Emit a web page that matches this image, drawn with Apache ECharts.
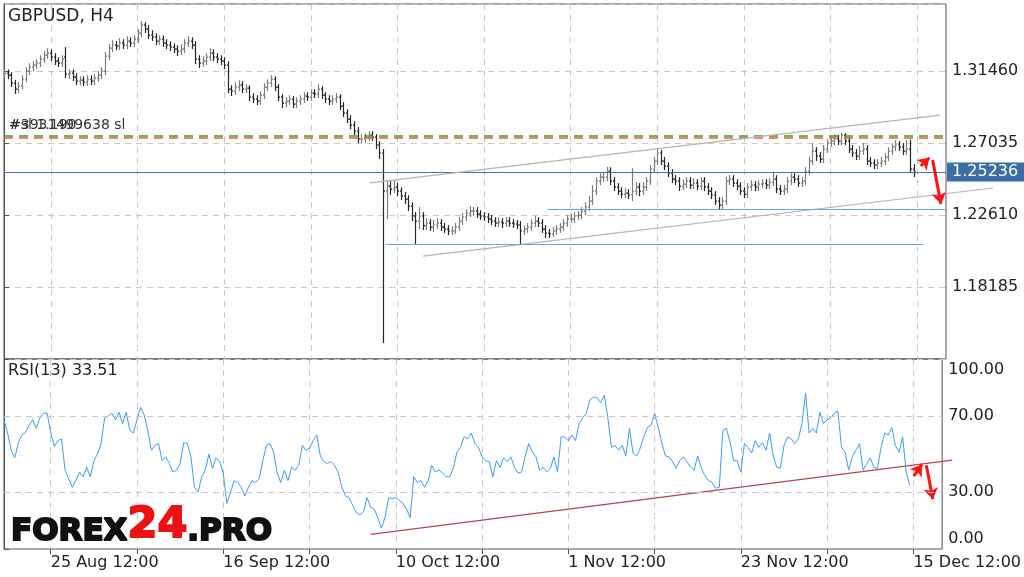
<!DOCTYPE html>
<html><head><meta charset="utf-8">
<script src="https://cdn.jsdelivr.net/npm/echarts@6/dist/echarts.min.js"></script>
<style>html,body{margin:0;padding:0;background:#fff}#c{width:1024px;height:577px}</style>
</head><body><div id="c"></div>
<script>
// ---- data ----
const xTickIndex = [13, 61, 109, 157, 205, 253];
const xTickLabels = ['25 Aug 12:00', '16 Sep 12:00', '10 Oct 12:00', '1 Nov 12:00', '23 Nov 12:00', '15 Dec 12:00'];
const priceTicks = [1.18185, 1.22610, 1.27035, 1.31460];
const rsiTicks = [0, 30, 70, 100];
const categoryCount = 262;

// [open, close, low, high]
const bars = [
[1.3125,1.3131,1.3101,1.3155],[1.3131,1.3119,1.3095,1.3155],[1.3119,1.3070,1.3046,1.3137],[1.3070,1.3033,1.3003,1.3090],[1.3033,1.3052,1.3009,1.3076],[1.3052,1.3094,1.3034,1.3118],[1.3094,1.3144,1.3076,1.3168],[1.3144,1.3168,1.3120,1.3192],[1.3168,1.3181,1.3144,1.3205],[1.3181,1.3193,1.3157,1.3217],
[1.3193,1.3217,1.3169,1.3241],[1.3217,1.3242,1.3193,1.3266],[1.3242,1.3254,1.3218,1.3284],[1.3254,1.3230,1.3206,1.3278],[1.3230,1.3205,1.3181,1.3254],[1.3205,1.3193,1.3169,1.3229],[1.3193,1.3217,1.3169,1.3241],[1.3230,1.3125,1.3101,1.3291],[1.3125,1.3131,1.3095,1.3155],[1.3131,1.3107,1.3083,1.3155],
[1.3107,1.3082,1.3058,1.3131],[1.3082,1.3088,1.3058,1.3112],[1.3088,1.3076,1.3052,1.3112],[1.3076,1.3094,1.3052,1.3118],[1.3094,1.3082,1.3058,1.3118],[1.3082,1.3101,1.3058,1.3125],[1.3101,1.3119,1.3077,1.3143],[1.3119,1.3144,1.3095,1.3168],[1.3144,1.3236,1.3120,1.3260],[1.3236,1.3285,1.3212,1.3309],
[1.3285,1.3303,1.3261,1.3334],[1.3303,1.3297,1.3273,1.3328],[1.3297,1.3316,1.3273,1.3346],[1.3316,1.3303,1.3279,1.3340],[1.3303,1.3328,1.3279,1.3358],[1.3328,1.3316,1.3292,1.3352],[1.3316,1.3340,1.3292,1.3364],[1.3340,1.3377,1.3316,1.3401],[1.3377,1.3426,1.3353,1.3451],[1.3426,1.3402,1.3378,1.3445],
[1.3402,1.3365,1.3341,1.3426],[1.3365,1.3353,1.3329,1.3395],[1.3353,1.3328,1.3304,1.3377],[1.3328,1.3340,1.3304,1.3364],[1.3340,1.3316,1.3292,1.3364],[1.3316,1.3303,1.3279,1.3340],[1.3303,1.3291,1.3267,1.3327],[1.3291,1.3279,1.3255,1.3315],[1.3279,1.3267,1.3236,1.3303],[1.3267,1.3279,1.3243,1.3309],
[1.3279,1.3316,1.3255,1.3340],[1.3316,1.3328,1.3292,1.3358],[1.3328,1.3303,1.3279,1.3352],[1.3303,1.3217,1.3187,1.3327],[1.3217,1.3193,1.3163,1.3241],[1.3193,1.3205,1.3169,1.3235],[1.3205,1.3230,1.3181,1.3254],[1.3230,1.3254,1.3206,1.3284],[1.3254,1.3230,1.3206,1.3278],[1.3230,1.3217,1.3193,1.3254],
[1.3217,1.3205,1.3181,1.3241],[1.3205,1.3181,1.3157,1.3229],[1.3181,1.3033,1.3009,1.3205],[1.3033,1.3021,1.2991,1.3057],[1.3021,1.3045,1.2997,1.3076],[1.3045,1.3058,1.3021,1.3088],[1.3058,1.3033,1.3009,1.3082],[1.3033,1.3039,1.3009,1.3064],[1.3039,1.2984,1.2960,1.3057],[1.2984,1.2972,1.2948,1.3008],
[1.2972,1.2960,1.2935,1.2996],[1.2960,1.2996,1.2936,1.3020],[1.2996,1.3045,1.2972,1.3070],[1.3045,1.3070,1.3021,1.3094],[1.3070,1.3094,1.3046,1.3119],[1.3094,1.3045,1.3021,1.3112],[1.3045,1.2984,1.2960,1.3064],[1.2984,1.2947,1.2917,1.3002],[1.2947,1.2960,1.2923,1.2984],[1.2960,1.2972,1.2936,1.2996],
[1.2972,1.2941,1.2917,1.2990],[1.2941,1.2960,1.2917,1.2984],[1.2960,1.2972,1.2936,1.2996],[1.2972,1.2990,1.2948,1.3014],[1.2990,1.2984,1.2960,1.3014],[1.2984,1.3009,1.2960,1.3033],[1.3009,1.3002,1.2978,1.3033],[1.3002,1.3033,1.2978,1.3064],[1.3033,1.2996,1.2972,1.3051],[1.2996,1.2972,1.2948,1.3014],
[1.2972,1.2960,1.2935,1.2996],[1.2960,1.2972,1.2936,1.2996],[1.2972,1.2984,1.2948,1.3008],[1.2984,1.2929,1.2905,1.3002],[1.2929,1.2886,1.2862,1.2953],[1.2886,1.2849,1.2825,1.2910],[1.2849,1.2812,1.2788,1.2873],[1.2812,1.2775,1.2751,1.2836],[1.2775,1.2727,1.2702,1.2800],[1.2727,1.2727,1.2702,1.2757],
[1.2727,1.2739,1.2702,1.2763],[1.2739,1.2751,1.2715,1.2775],[1.2751,1.2739,1.2715,1.2775],[1.2739,1.2690,1.2666,1.2757],[1.2690,1.2641,1.2604,1.2714],[1.2641,1.2407,1.1474,1.2665],[1.2407,1.2438,1.2235,1.2474],[1.2438,1.2419,1.2383,1.2468],[1.2419,1.2432,1.2395,1.2474],[1.2432,1.2407,1.2377,1.2456],
[1.2407,1.2376,1.2352,1.2431],[1.2376,1.2358,1.2328,1.2401],[1.2358,1.2315,1.2285,1.2382],[1.2315,1.2254,1.2223,1.2339],[1.2254,1.2223,1.2082,1.2278],[1.2223,1.2254,1.2174,1.2309],[1.2254,1.2193,1.2168,1.2278],[1.2193,1.2211,1.2168,1.2241],[1.2211,1.2186,1.2162,1.2235],[1.2186,1.2199,1.2156,1.2229],
[1.2199,1.2211,1.2174,1.2241],[1.2211,1.2186,1.2162,1.2235],[1.2186,1.2174,1.2150,1.2211],[1.2174,1.2162,1.2137,1.2198],[1.2162,1.2162,1.2137,1.2192],[1.2162,1.2186,1.2143,1.2211],[1.2186,1.2223,1.2162,1.2247],[1.2223,1.2248,1.2199,1.2272],[1.2248,1.2272,1.2223,1.2296],[1.2272,1.2284,1.2248,1.2315],
[1.2284,1.2284,1.2254,1.2309],[1.2284,1.2266,1.2242,1.2309],[1.2266,1.2254,1.2230,1.2290],[1.2254,1.2248,1.2223,1.2278],[1.2248,1.2235,1.2211,1.2272],[1.2235,1.2223,1.2199,1.2260],[1.2223,1.2211,1.2187,1.2247],[1.2211,1.2217,1.2187,1.2247],[1.2217,1.2211,1.2181,1.2241],[1.2211,1.2223,1.2187,1.2247],
[1.2223,1.2211,1.2187,1.2247],[1.2211,1.2205,1.2181,1.2235],[1.2205,1.2199,1.2174,1.2229],[1.2199,1.2162,1.2082,1.2223],[1.2162,1.2174,1.2137,1.2198],[1.2174,1.2186,1.2150,1.2211],[1.2186,1.2211,1.2162,1.2235],[1.2211,1.2223,1.2187,1.2254],[1.2223,1.2211,1.2187,1.2247],[1.2211,1.2174,1.2150,1.2235],
[1.2174,1.2149,1.2119,1.2198],[1.2149,1.2143,1.2119,1.2174],[1.2143,1.2162,1.2125,1.2186],[1.2162,1.2174,1.2137,1.2198],[1.2174,1.2186,1.2150,1.2211],[1.2186,1.2211,1.2162,1.2235],[1.2211,1.2235,1.2187,1.2260],[1.2235,1.2235,1.2211,1.2266],[1.2235,1.2254,1.2211,1.2278],[1.2254,1.2260,1.2230,1.2284],
[1.2260,1.2284,1.2236,1.2309],[1.2284,1.2309,1.2260,1.2339],[1.2309,1.2346,1.2285,1.2376],[1.2346,1.2407,1.2322,1.2444],[1.2407,1.2468,1.2383,1.2493],[1.2468,1.2493,1.2444,1.2517],[1.2493,1.2493,1.2463,1.2523],[1.2493,1.2530,1.2469,1.2555],[1.2530,1.2468,1.2444,1.2554],[1.2468,1.2432,1.2407,1.2493],
[1.2432,1.2407,1.2383,1.2456],[1.2407,1.2389,1.2364,1.2431],[1.2389,1.2395,1.2364,1.2425],[1.2395,1.2383,1.2358,1.2419],[1.2383,1.2407,1.2346,1.2548],[1.2407,1.2432,1.2383,1.2462],[1.2432,1.2407,1.2377,1.2456],[1.2407,1.2432,1.2383,1.2462],[1.2432,1.2468,1.2407,1.2493],[1.2468,1.2542,1.2444,1.2567],
[1.2542,1.2591,1.2518,1.2616],[1.2591,1.2641,1.2567,1.2665],[1.2641,1.2591,1.2567,1.2660],[1.2591,1.2561,1.2536,1.2616],[1.2561,1.2518,1.2493,1.2585],[1.2518,1.2481,1.2456,1.2542],[1.2481,1.2468,1.2444,1.2505],[1.2468,1.2438,1.2407,1.2493],[1.2438,1.2450,1.2413,1.2480],[1.2450,1.2468,1.2426,1.2493],
[1.2468,1.2444,1.2420,1.2493],[1.2444,1.2456,1.2420,1.2487],[1.2456,1.2438,1.2413,1.2480],[1.2438,1.2468,1.2413,1.2493],[1.2468,1.2432,1.2407,1.2493],[1.2432,1.2407,1.2383,1.2456],[1.2407,1.2383,1.2358,1.2431],[1.2383,1.2346,1.2322,1.2407],[1.2346,1.2321,1.2297,1.2370],[1.2321,1.2346,1.2297,1.2370],
[1.2346,1.2468,1.2322,1.2493],[1.2468,1.2481,1.2444,1.2505],[1.2481,1.2456,1.2432,1.2505],[1.2456,1.2438,1.2413,1.2480],[1.2438,1.2407,1.2383,1.2462],[1.2407,1.2389,1.2364,1.2431],[1.2389,1.2432,1.2364,1.2456],[1.2432,1.2444,1.2407,1.2474],[1.2444,1.2432,1.2407,1.2468],[1.2432,1.2450,1.2407,1.2474],
[1.2450,1.2456,1.2426,1.2480],[1.2456,1.2444,1.2420,1.2480],[1.2444,1.2462,1.2420,1.2487],[1.2462,1.2481,1.2438,1.2523],[1.2481,1.2419,1.2395,1.2505],[1.2419,1.2407,1.2383,1.2444],[1.2407,1.2419,1.2383,1.2444],[1.2419,1.2468,1.2395,1.2493],[1.2468,1.2493,1.2444,1.2517],[1.2493,1.2481,1.2456,1.2517],
[1.2481,1.2456,1.2432,1.2505],[1.2456,1.2468,1.2432,1.2493],[1.2468,1.2530,1.2444,1.2554],[1.2530,1.2591,1.2506,1.2616],[1.2591,1.2653,1.2567,1.2702],[1.2653,1.2622,1.2592,1.2677],[1.2622,1.2604,1.2579,1.2647],[1.2604,1.2665,1.2579,1.2690],[1.2665,1.2702,1.2641,1.2726],[1.2702,1.2714,1.2678,1.2745],
[1.2714,1.2727,1.2690,1.2757],[1.2727,1.2714,1.2690,1.2751],[1.2714,1.2751,1.2690,1.2765],[1.2751,1.2714,1.2690,1.2763],[1.2714,1.2665,1.2641,1.2739],[1.2665,1.2641,1.2616,1.2690],[1.2641,1.2622,1.2598,1.2665],[1.2622,1.2653,1.2598,1.2684],[1.2653,1.2665,1.2629,1.2702],[1.2665,1.2591,1.2567,1.2690],
[1.2591,1.2579,1.2555,1.2616],[1.2579,1.2567,1.2543,1.2603],[1.2567,1.2579,1.2543,1.2603],[1.2579,1.2591,1.2555,1.2616],[1.2591,1.2616,1.2567,1.2640],[1.2616,1.2653,1.2592,1.2677],[1.2653,1.2678,1.2629,1.2702],[1.2678,1.2690,1.2653,1.2720],[1.2690,1.2678,1.2653,1.2714],[1.2678,1.2653,1.2629,1.2702],
[1.2653,1.2665,1.2629,1.2720],[1.2665,1.2542,1.2518,1.2724],[1.2542,1.2524,1.2493,1.2573]
];

const rsi = [
67.8,61,52,48,56,60,61.5,65,68,63.5,
69,71.5,71.5,61,54,57,58,41.5,37,32.5,
36,40.5,38,43,38,46.5,50,55.5,69,70,
71.5,68,72,66,72,62.5,61,68,74.5,70.5,
62.5,52,54.5,55.5,46.5,48.5,45,40.5,41.5,45,
56,55.5,48.5,32.5,30,38,41.5,50,42.5,48,
46,40,24,29.5,36,35,32.5,28,32.5,36,
35,37,46.5,54.5,55.5,51,40,35,41.5,36,
43,41.5,44,54.5,52,53,57,60,49,46,
45,46,44,40,32.5,28,27,23,19,18,
19.5,27,22,21,16.5,11,16.5,27,26.5,27,
25.5,24,21,16.5,38,35,36,32.5,36,44,
40.5,41.5,40,38,38,42.5,51,53.5,59,58,
61,55.5,53.5,48.5,46.5,46,38,46.5,43,48,
46,48.5,43,40,40.5,49,55.5,51,48.5,41.5,
43,40.5,42.5,48.5,40.5,59,59,57,60,57,
66,69,71.5,78.5,80,79.5,77,81,69,53.5,
54.5,52,54.5,49,63.5,50.5,49,53,59,64,
65,71.5,64,56,49,48.5,46,42.5,46.5,48.5,
46,43,41.5,49,42.5,38.5,36,35,32,32.5,
62.5,63.5,56,46.5,46.5,40.5,55.5,53.5,50.5,57,
53.5,56,52,61,49,43,42.5,54.5,59,58,
55.5,58,66,82,61,63.5,61,72,66,68,
69,71.5,72.5,53.5,51,41.5,48.5,52,55.5,41.5,
45,48,43,42.5,53.5,61,60,64,54.5,51,
59,40.5,33.5
];

const lastPrice = 1.25236;
const stopGreen = 1.2749;
const stopOrange = 1.2737;
const channelUpper = [[101.4, 1.2457], [259.4, 1.2874]];
const channelLower = [[116.1, 1.2008], [274.0, 1.2426]];
const levelUpper = [[150.7, 1.2295], [261, 1.2295]];
const levelLower = [[105.6, 1.2078], [254.6, 1.2078]];
const priceArrows = [[[254.0, 1.2561], [256.4, 1.2612]], [[257.3, 1.2598], [259.6, 1.2328]]];
const rsiTrend = [[102.0, 7.7], [263.8, 46.8]];
const rsiArrows = [[[253.1, 38.3], [255.4, 44.5]], [[256.6, 44.1], [258.4, 26.2]]];

// ---- chart ----
const FONT = 'DejaVu Sans';
const lastIdx = categoryCount - 1;
const categories = Array.from({length: categoryCount}, (_, i) => String(i));
const priceStep = priceTicks[1] - priceTicks[0];
const isGrid = i => i >= xTickIndex[0] && (i - xTickIndex[0]) % 24 === 0;
const isLabel = i => xTickIndex.indexOf(i) >= 0;
const gridLine = {type: [6, 5], color: '#c8c8c8', width: 1};
const ohlcTable = bars.map((b, i) => [i, b[0], b[1], b[2], b[3]]);
const hLine = v => ({coords: [[0, v], [lastIdx, v]]});

function renderOHLC(params, api) {
  const i = api.value(0);
  const o = api.coord([i, api.value(1)]);
  const c = api.coord([i, api.value(2)]);
  const l = api.coord([i, api.value(3)]);
  const h = api.coord([i, api.value(4)]);
  const x = Math.round(o[0]) + 0.5;
  const col = api.value(2) >= api.value(1) ? '#7d7d7d' : '#262626';
  const st = {stroke: col, lineWidth: 1.2};
  return {type: 'group', children: [
    {type: 'line', shape: {x1: x, y1: h[1], x2: x, y2: l[1]}, style: st},
    {type: 'line', shape: {x1: x - 1.5, y1: o[1], x2: x, y2: o[1]}, style: st},
    {type: 'line', shape: {x1: x, y1: c[1], x2: x + 1.5, y2: c[1]}, style: st}
  ]};
}

const chart = echarts.init(document.getElementById('c'), null, {renderer: 'canvas'});
chart.setOption({
  animation: false,
  backgroundColor: '#ffffff',
  grid: [
    {left: 4, right: 78, top: 4, height: 355, show: true, borderColor: '#555', borderWidth: 1, backgroundColor: 'transparent'},
    {left: 4, right: 78, top: 359, height: 190, show: true, borderColor: '#555', borderWidth: 1, backgroundColor: 'transparent'}
  ],
  xAxis: [
    {type: 'category', gridIndex: 0, data: categories, boundaryGap: false,
     axisLine: {show: false}, axisTick: {show: false}, axisLabel: {show: false},
     splitLine: {show: true, interval: isGrid, lineStyle: gridLine}},
    {type: 'category', gridIndex: 1, data: categories, boundaryGap: false,
     axisLine: {show: false},
     axisTick: {show: true, interval: isGrid, length: 5, lineStyle: {color: '#555'}},
     axisLabel: {show: true, interval: isLabel, align: 'left', margin: 6, fontFamily: FONT, fontSize: 16, color: '#222',
                 formatter: (v) => { const k = xTickIndex.indexOf(+v); return k >= 0 ? xTickLabels[k] : ''; }},
     splitLine: {show: true, interval: isGrid, lineStyle: gridLine}},
    {type: 'value', gridIndex: 0, min: 0, max: lastIdx, show: false},
    {type: 'value', gridIndex: 1, min: 0, max: lastIdx, show: false}
  ],
  yAxis: [
    {type: 'value', gridIndex: 0, position: 'right', scale: true,
     min: +(priceTicks[0] - priceStep).toFixed(5), max: 1.3556, interval: priceStep,
     axisLine: {show: true, lineStyle: {color: '#555'}},
     axisTick: {show: true, length: 5, lineStyle: {color: '#555'}},
     axisLabel: {show: true, showMinLabel: false, showMaxLabel: false, margin: 6, fontFamily: FONT, fontSize: 16, color: '#222',
                 formatter: v => priceTicks.some(t => Math.abs(t - v) < 1e-6) ? v.toFixed(5) : ''},
     splitLine: {show: true, lineStyle: gridLine}},
    {type: 'value', gridIndex: 1, position: 'right', min: 0, max: 100, interval: 10,
     axisLine: {show: true, lineStyle: {color: '#555'}},
     axisTick: {show: true, length: 5, customValues: rsiTicks, lineStyle: {color: '#555'}},
     axisLabel: {show: true, margin: 6, fontFamily: FONT, fontSize: 16, color: '#222', customValues: rsiTicks,
                 formatter: v => {
                   if (!rsiTicks.some(t => Math.abs(t - v) < 1e-6)) return '';
                   const s = v.toFixed(2);
                   if (v >= 100) return '{top|' + s + '}';
                   if (v <= 0) return '{bot|' + s + '}';
                   return s;
                 },
                 rich: {top: {padding: [22, 0, 0, 0], fontFamily: FONT, fontSize: 16, color: '#222'},
                        bot: {padding: [0, 0, 20, 0], fontFamily: FONT, fontSize: 16, color: '#222'}}},
     splitLine: {show: false}}
  ],
  series: [
    {type: 'custom', xAxisIndex: 0, yAxisIndex: 0, data: ohlcTable, renderItem: renderOHLC,
     encode: {x: 0, y: [1, 2, 3, 4]}, clip: true, silent: true, z: 2},
    {type: 'lines', coordinateSystem: 'cartesian2d', xAxisIndex: 2, yAxisIndex: 0, clip: false, silent: true, z: 3,
     lineStyle: {color: '#33a02c', type: [9, 6], width: 1.5, opacity: 1}, data: [hLine(stopGreen)]},
    {type: 'lines', coordinateSystem: 'cartesian2d', xAxisIndex: 2, yAxisIndex: 0, clip: false, silent: true, z: 3,
     lineStyle: {color: '#ff5522', type: [9, 6], width: 1.5, opacity: 1}, data: [hLine(stopOrange)]},
    {type: 'lines', coordinateSystem: 'cartesian2d', xAxisIndex: 2, yAxisIndex: 0, clip: false, silent: true, z: 3,
     lineStyle: {color: '#4a72a6', width: 1, opacity: 1},
     label: {show: true, position: 'end', distance: 1, formatter: lastPrice.toFixed(5),
             backgroundColor: '#3b6ea5', color: '#ffffff', fontFamily: FONT, fontSize: 16, padding: [2, 6, 1, 5]},
     data: [hLine(lastPrice)]},
    {type: 'lines', coordinateSystem: 'cartesian2d', xAxisIndex: 2, yAxisIndex: 0, clip: false, silent: true, z: 3,
     lineStyle: {color: '#b4b4b4', width: 1.2, opacity: 1},
     data: [{coords: channelUpper}, {coords: channelLower}]},
    {type: 'lines', coordinateSystem: 'cartesian2d', xAxisIndex: 2, yAxisIndex: 0, clip: false, silent: true, z: 3,
     lineStyle: {color: '#6fa3e0', width: 1.2, opacity: 1},
     data: [{coords: levelUpper}, {coords: levelLower}]},
    {type: 'lines', coordinateSystem: 'cartesian2d', xAxisIndex: 2, yAxisIndex: 0, clip: false, silent: true, z: 4,
     symbol: ['none', 'arrow'], symbolSize: 11,
     lineStyle: {color: '#ff1010', width: 3, opacity: 1},
     data: priceArrows.map(c => ({coords: c}))},
    {type: 'line', xAxisIndex: 1, yAxisIndex: 1, data: rsi, showSymbol: false, symbol: 'none',
     lineStyle: {color: '#3d9bff', width: 1}, z: 3,
     markLine: {silent: true, symbol: ['none', 'none'], label: {show: false},
       lineStyle: gridLine,
       data: rsiTicks.filter(v => v > 0 && v < 100).map(v => ({yAxis: v}))}},
    {type: 'lines', coordinateSystem: 'cartesian2d', xAxisIndex: 3, yAxisIndex: 1, clip: false, silent: true, z: 3,
     lineStyle: {color: '#b5484e', width: 1.4, opacity: 1},
     data: [{coords: rsiTrend}]},
    {type: 'lines', coordinateSystem: 'cartesian2d', xAxisIndex: 3, yAxisIndex: 1, clip: false, silent: true, z: 4,
     symbol: ['none', 'arrow'], symbolSize: 11,
     lineStyle: {color: '#ff1010', width: 3, opacity: 1},
     data: rsiArrows.map(c => ({coords: c}))}
  ],
  graphic: [
    {type: 'text', left: 8, top: 8, z: 100, style: {text: 'GBPUSD, H4', fontFamily: FONT, fontSize: 17, fill: '#222'}},
    {type: 'text', left: 9, top: 118, z: 100, style: {text: '#3931499638 sl', fontFamily: FONT, fontSize: 14, fill: '#333'}},
    {type: 'text', left: 9, top: 118, z: 100, style: {text: '#sl 1.190', fontFamily: FONT, fontSize: 14, fill: '#333'}},
    {type: 'text', left: 8, top: 363, z: 100, style: {text: 'RSI(13) 33.51', fontFamily: FONT, fontSize: 16, fill: '#222'}},
    {type: 'text', left: 10, top: 503, z: 100, style: {
      text: '{a|FOREX}{b|24}{a|.PRO}',
      rich: {
        a: {fontFamily: FONT, fontWeight: 'bold', fontSize: 31, fill: '#111', stroke: '#111', lineWidth: 2, verticalAlign: 'bottom'},
        b: {fontFamily: FONT, fontWeight: 'bold', fontSize: 43, fill: '#ee1111', stroke: '#ee1111', lineWidth: 2, verticalAlign: 'bottom'}
      }}}
  ]
});
</script>
</body></html>
